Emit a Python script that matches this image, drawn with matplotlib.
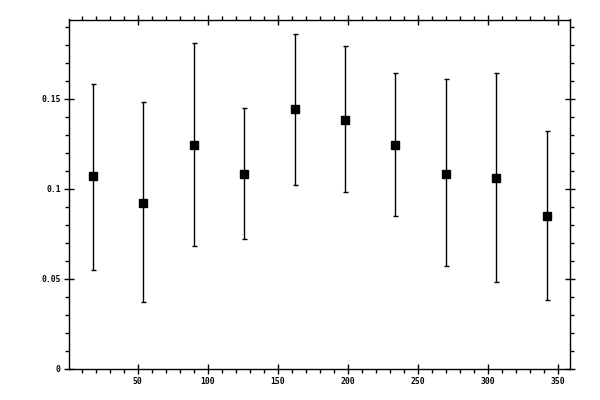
import numpy as np
import matplotlib
matplotlib.use("Agg")
import matplotlib.pyplot as plt
from matplotlib.ticker import MultipleLocator, FuncFormatter

# bin centres (degrees) and measured values with their error bar ends
angle = [18, 54, 90, 126, 162, 198, 234, 270, 306, 342]
value = [0.1067, 0.0922, 0.1244, 0.1083, 0.1439, 0.1383, 0.1244, 0.1083, 0.1061, 0.0850]
err_top = [0.1578, 0.1478, 0.1811, 0.1450, 0.1861, 0.1794, 0.1644, 0.1606, 0.1644, 0.1322]
err_bot = [0.0550, 0.0367, 0.0683, 0.0717, 0.1017, 0.0978, 0.0850, 0.0567, 0.0478, 0.0383]

value = np.array(value)
yerr = [value - np.array(err_bot), np.array(err_top) - value]

fig = plt.figure(figsize=(6, 4), dpi=100)
ax = fig.add_axes([0.1158, 0.07875, 0.8347, 0.8725])

ax.errorbar(angle, value, yerr=yerr, fmt='s', color='black', ms=5.5,
            elinewidth=1, capsize=1.8, capthick=1)

ax.set_xlim(1.2, 359)
ax.set_ylim(0, 0.1939)

ax.xaxis.set_major_locator(MultipleLocator(50))
ax.xaxis.set_minor_locator(MultipleLocator(10))
ax.yaxis.set_major_locator(MultipleLocator(0.05))
ax.yaxis.set_minor_locator(MultipleLocator(0.01))
ax.yaxis.set_major_formatter(FuncFormatter(lambda v, p: "%g" % round(v, 4)))

for s in ax.spines.values():
    s.set_linewidth(1)

ax.tick_params(which='major', direction='inout', length=6.5, width=1,
               top=True, right=True, labelsize=5.8, pad=3)
ax.tick_params(which='minor', direction='out', length=3, width=1,
               top=True, right=True)
for lab in ax.get_xticklabels() + ax.get_yticklabels():
    lab.set_family('DejaVu Sans Mono')
    lab.set_fontweight('bold')

fig.savefig("out.png", dpi=100)
